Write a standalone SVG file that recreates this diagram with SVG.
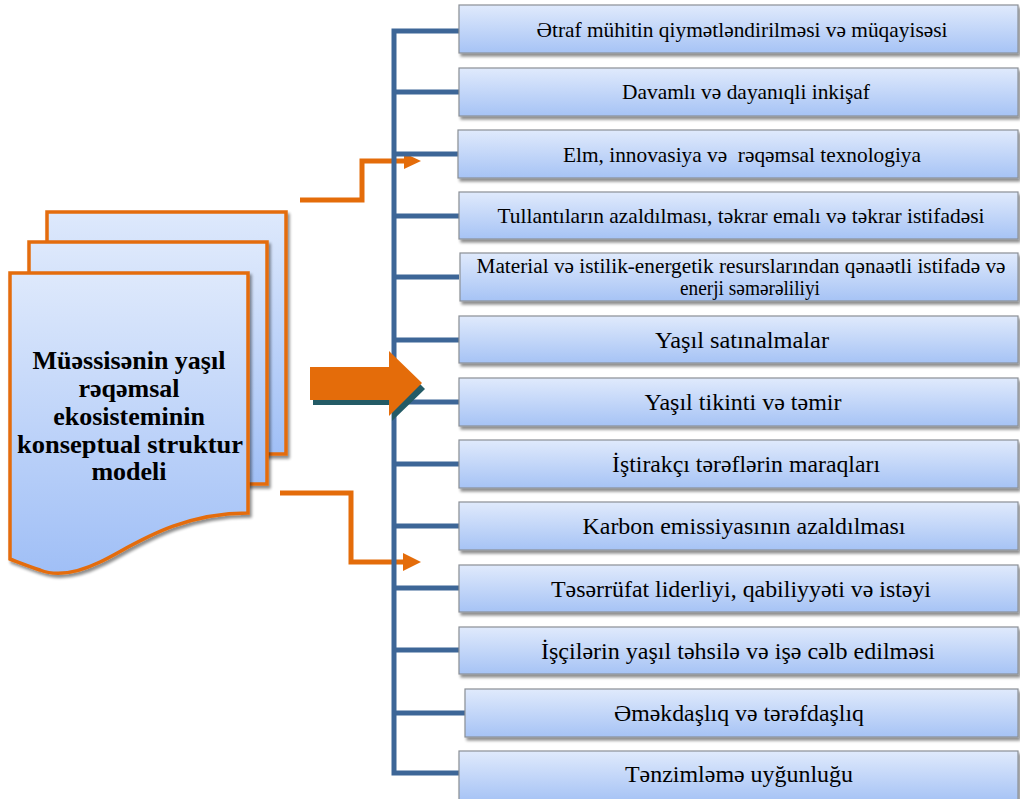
<svg xmlns="http://www.w3.org/2000/svg" width="1020" height="799" viewBox="0 0 1020 799">
<defs>
<linearGradient id="gBox" x1="0" y1="0" x2="0" y2="1">
<stop offset="0" stop-color="#e0eafc"/>
<stop offset="1" stop-color="#a6c3f5"/>
</linearGradient>
<linearGradient id="gDoc" x1="0" y1="0" x2="0" y2="1">
<stop offset="0" stop-color="#dee9fc"/>
<stop offset="1" stop-color="#a0bff6"/>
</linearGradient>
<filter id="sh" x="-5%" y="-10%" width="115%" height="140%">
<feGaussianBlur in="SourceAlpha" stdDeviation="1.6"/>
<feOffset dx="2" dy="3" result="o"/>
<feComponentTransfer><feFuncA type="linear" slope="0.45"/></feComponentTransfer>
<feMerge><feMergeNode/><feMergeNode in="SourceGraphic"/></feMerge>
</filter>
<style>
.box{fill:url(#gBox);stroke:#8a8f96;stroke-width:1.2;filter:url(#sh)}
.doc{fill:url(#gDoc);stroke:#e46c0a;stroke-width:3.5;filter:url(#sh)}
.blue{fill:none;stroke:#3d6697;stroke-width:5}
.or{fill:none;stroke:#e46c0a;stroke-width:5}
.orf{fill:#e46c0a}
.t{font-family:'Liberation Serif','Times New Roman',serif;fill:#000;text-anchor:middle}
.s{font-size:21px}
.m{font-size:20px}
.l{font-size:24px}
.d{font-size:26px;font-weight:bold}
</style>
</defs>

<g id="connectors">
<path class="or" d="M300,200 H362 V161 H405"/>
<polygon class="orf" points="404,153 421,161 404,169"/>
<path class="or" d="M280,493 H351 V562 H404"/>
<polygon class="orf" points="403,553 421,562 403,571"/>
<path class="blue" d="M459,31 H394 V773 H459 M394,92 H459 M394,154 H459 M394,216 H459 M394,277 H459 M394,340 H459 M394,402 H459 M394,464 H459 M394,526 H459 M394,588 H459 M394,650 H459 M394,713 H465"/>
<polygon fill="#235b66" points="313,372 392,372 392,356 425,389 392,421 392,405 313,405"/>
<polygon class="orf" points="310,367 389,367 389,351 422,383 389,416 389,400 310,400"/>
</g>

<g id="doc">
<rect class="doc" x="47" y="212" width="239" height="242"/>
<rect class="doc" x="29" y="242" width="238" height="242"/>
<path class="doc" d="M10,273 H248 V513 C175,513 130,548 100,562 C75,574 55,576 40,570 C28,566 18,562 10,559 Z"/>
<text class="t d" x="129" y="369">Müəssisənin yaşıl</text>
<text class="t d" x="129" y="397">rəqəmsal</text>
<text class="t d" x="129" y="425">ekosisteminin</text>
<text class="t d" x="130" y="453" textLength="226" lengthAdjust="spacingAndGlyphs">konseptual struktur</text>
<text class="t d" x="129" y="480">modeli</text>
</g>

<g id="n1"><rect class="box" x="459" y="5" width="559" height="48"/>
<text class="t s" x="742" y="36.5" textLength="411" lengthAdjust="spacingAndGlyphs">Ətraf mühitin qiymətləndirilməsi və müqayisəsi</text></g>
<g id="n2"><rect class="box" x="459" y="68" width="559" height="48"/>
<text class="t s" x="746" y="99.3" textLength="248" lengthAdjust="spacingAndGlyphs">Davamlı və dayanıqli inkişaf</text></g>
<g id="n3"><rect class="box" x="458" y="130" width="560" height="48"/>
<text class="t s" x="742" y="161.5" textLength="358" lengthAdjust="spacingAndGlyphs" xml:space="preserve">Elm, innovasiya və  rəqəmsal texnologiya</text></g>
<g id="n4"><rect class="box" x="459" y="192" width="559" height="47"/>
<text class="t s" x="741" y="223" textLength="487" lengthAdjust="spacingAndGlyphs">Tullantıların azaldılması, təkrar emalı və təkrar istifadəsi</text></g>
<g id="n5"><rect class="box" x="460" y="253" width="558" height="48"/>
<text class="t m" x="741" y="273" textLength="529" lengthAdjust="spacingAndGlyphs">Material və istilik-energetik resurslarından qənaətli istifadə və</text>
<text class="t m" x="750" y="295" textLength="140" lengthAdjust="spacingAndGlyphs">enerji səmərəliliyi</text></g>
<g id="n6"><rect class="box" x="459" y="316" width="559" height="47"/>
<text class="t l" x="742" y="347.5" textLength="174" lengthAdjust="spacingAndGlyphs">Yaşıl satınalmalar</text></g>
<g id="n7"><rect class="box" x="459" y="378" width="559" height="48"/>
<text class="t l" x="743" y="410" textLength="197" lengthAdjust="spacingAndGlyphs">Yaşıl tikinti və təmir</text></g>
<g id="n8"><rect class="box" x="459" y="440" width="559" height="48"/>
<text class="t l" x="746" y="472" textLength="268" lengthAdjust="spacingAndGlyphs">İştirakçı tərəflərin maraqları</text></g>
<g id="n9"><rect class="box" x="459" y="502" width="559" height="48"/>
<text class="t l" x="744" y="534" textLength="323" lengthAdjust="spacingAndGlyphs">Karbon emissiyasının azaldılması</text></g>
<g id="n10"><rect class="box" x="459" y="565" width="559" height="47"/>
<text class="t l" x="741" y="596.5" textLength="380" lengthAdjust="spacingAndGlyphs">Təsərrüfat liderliyi, qabiliyyəti və istəyi</text></g>
<g id="n11"><rect class="box" x="459" y="627" width="559" height="47"/>
<text class="t l" x="738" y="658.5" textLength="394" lengthAdjust="spacingAndGlyphs">İşçilərin yaşıl təhsilə və işə cəlb edilməsi</text></g>
<g id="n12"><rect class="box" x="465" y="689" width="553" height="48"/>
<text class="t l" x="739" y="721" textLength="250" lengthAdjust="spacingAndGlyphs">Əməkdaşlıq və tərəfdaşlıq</text></g>
<g id="n13"><rect class="box" x="459" y="751" width="559" height="50"/>
<text class="t l" x="739" y="782" textLength="228" lengthAdjust="spacingAndGlyphs">Tənzimləmə uyğunluğu</text></g>
</svg>
